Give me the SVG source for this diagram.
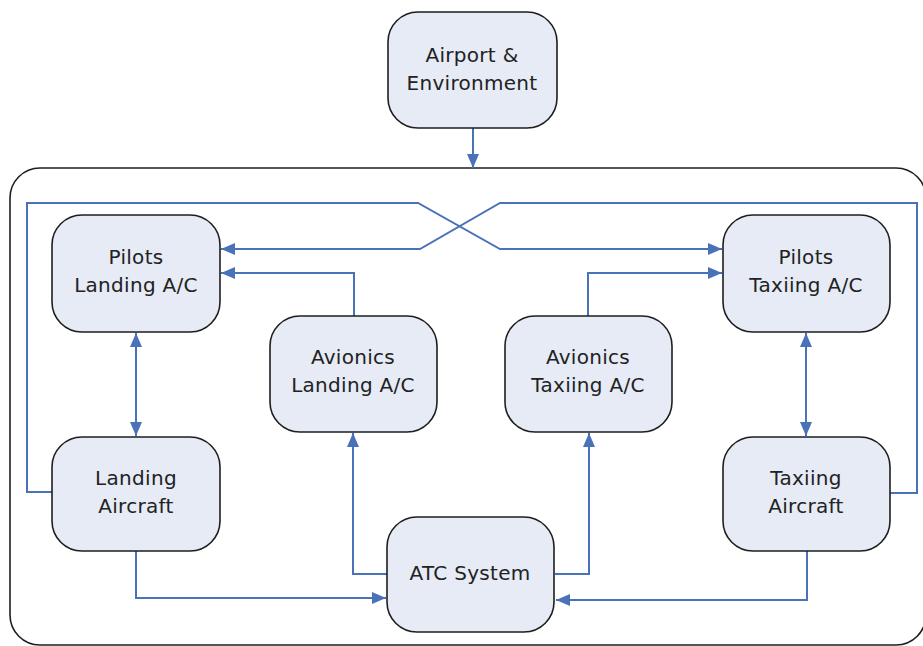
<svg xmlns="http://www.w3.org/2000/svg" width="923" height="646" viewBox="0 0 923 646">
<defs>
<style>
.node rect{fill:#e6ebf6;stroke:#1e1e1e;stroke-width:1.6}
.node text{font-family:"DejaVu Sans","Liberation Sans",sans-serif;font-size:20px;letter-spacing:0.3px;fill:#222;text-anchor:middle}
.conn path{fill:none;stroke:#4a72b8;stroke-width:2}
</style>
<marker id="ah" viewBox="0 0 14 12" refX="14" refY="6" markerWidth="14" markerHeight="12" markerUnits="userSpaceOnUse" orient="auto-start-reverse">
<path d="M0,0 L14,6 L0,12 z" fill="#4a72b8"/>
</marker>
</defs>
<rect width="923" height="646" fill="#ffffff"/>
<rect id="boundary" x="10" y="168" width="916" height="477" rx="30" fill="none" stroke="#1e1e1e" stroke-width="1.6"/>
<g class="conn" id="connectors">
<path d="M473,128 V168" marker-end="url(#ah)"/>
<path d="M52,492 H27 V203 H418 L500,249 H722" marker-end="url(#ah)"/>
<path d="M890,493 H917 V203 H500 L420,249 H221" marker-end="url(#ah)"/>
<path d="M354,316 V273 H221" marker-end="url(#ah)"/>
<path d="M588,316 V273 H722" marker-end="url(#ah)"/>
<path d="M136,333 V436" marker-start="url(#ah)" marker-end="url(#ah)"/>
<path d="M806,333 V436" marker-start="url(#ah)" marker-end="url(#ah)"/>
<path d="M387,574 H353 V433" marker-end="url(#ah)"/>
<path d="M555,574 H589 V433" marker-end="url(#ah)"/>
<path d="M136,551 V598 H386" marker-end="url(#ah)"/>
<path d="M807,551 V600 H556" marker-end="url(#ah)"/>
</g>
<g class="node" id="airport"><rect x="388" y="12" width="169" height="116" rx="30"/><text x="472" y="62">Airport &amp;</text><text x="472" y="90">Environment</text></g>
<g class="node" id="pilots-landing"><rect x="52" y="215" width="168" height="117" rx="30"/><text x="136" y="264">Pilots</text><text x="136" y="292">Landing A/C</text></g>
<g class="node" id="pilots-taxiing"><rect x="723" y="215" width="167" height="117" rx="30"/><text x="806" y="264">Pilots</text><text x="806" y="292">Taxiing A/C</text></g>
<g class="node" id="avionics-landing"><rect x="270" y="316" width="167" height="116" rx="30"/><text x="353" y="364">Avionics</text><text x="353" y="392">Landing A/C</text></g>
<g class="node" id="avionics-taxiing"><rect x="505" y="316" width="167" height="116" rx="30"/><text x="588" y="364">Avionics</text><text x="588" y="392">Taxiing A/C</text></g>
<g class="node" id="landing-aircraft"><rect x="52" y="437" width="168" height="114" rx="30"/><text x="136" y="485">Landing</text><text x="136" y="513">Aircraft</text></g>
<g class="node" id="taxiing-aircraft"><rect x="723" y="437" width="167" height="114" rx="30"/><text x="806" y="485">Taxiing</text><text x="806" y="513">Aircraft</text></g>
<g class="node" id="atc"><rect x="387" y="517" width="167" height="115" rx="30"/><text x="470" y="580">ATC System</text></g>
</svg>
